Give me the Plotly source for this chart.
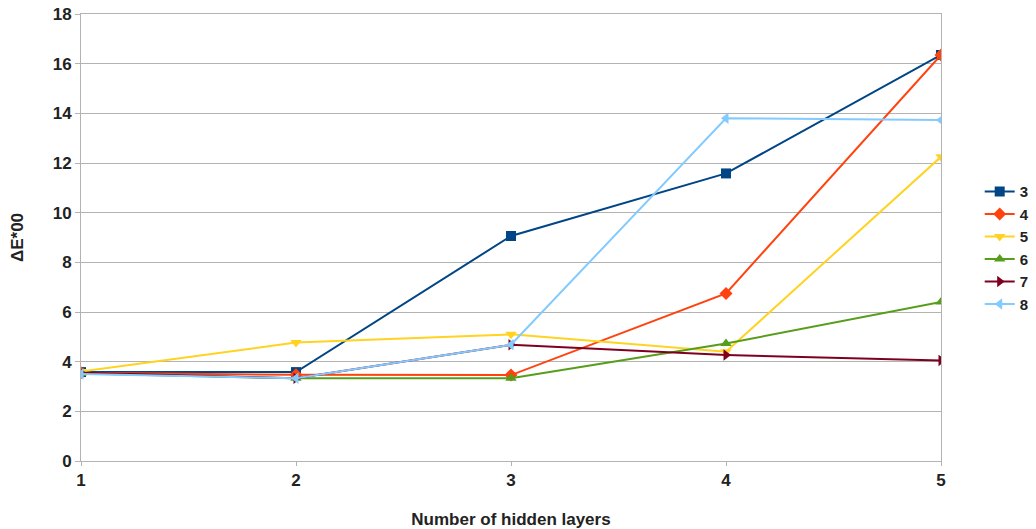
import plotly.graph_objects as go

layers = [1, 2, 3, 4, 5]
series_names = ["3", "4", "5", "6", "7", "8"]
s3 = [3.58, 3.58, 9.06, 11.58, 16.35]
s4 = [3.55, 3.47, 3.46, 6.75, 16.35]
s5 = [3.6, 4.77, 5.1, 4.4, 12.25]
s6 = [3.52, 3.33, 3.33, 4.73, 6.4]
s7 = [3.55, 3.33, 4.68, 4.27, 4.05]
s8 = [3.5, 3.33, 4.68, 13.8, 13.73]
values = [s3, s4, s5, s6, s7, s8]
colors = ["#004586", "#ff420e", "#ffd320", "#579d1c", "#7e0021", "#83caff"]
symbols = ["square", "diamond", "triangle-down", "triangle-up", "triangle-right", "triangle-left"]

font = "Liberation Sans, Arial, sans-serif"
fig = go.Figure()
for name, vals, c, s in zip(series_names, values, colors, symbols):
    fig.add_trace(go.Scatter(x=layers, y=vals, name=name, mode="lines+markers",
                             line=dict(color=c, width=2),
                             marker=dict(symbol=s, size=10, color=c)))

fig.update_layout(
    width=1036, height=529,
    margin=dict(l=81, r=95, t=14, b=68, autoexpand=False),
    plot_bgcolor="white", paper_bgcolor="white",
    font=dict(family=font, size=16, color="#222222"),
    showlegend=True,
    legend=dict(x=1.045, y=0.477, yanchor="middle", xanchor="left",
                font=dict(family=font, size=15, color="#222222", weight="bold"),
                tracegroupgap=0, itemwidth=30),
    xaxis=dict(range=[1, 5], tickvals=layers, ticktext=[str(v) for v in layers],
               automargin=False,
               showgrid=False, showline=True, linecolor="#b3b3b3", mirror=True,
               zeroline=False, ticks="outside", ticklen=4, tickcolor="#b3b3b3",
               tickfont=dict(family=font, size=17, weight="bold", color="#222222"),
               title=dict(text="Number of hidden layers",
                          font=dict(family=font, size=17, weight="bold", color="#222222"),
                          standoff=30)),
    yaxis=dict(range=[0, 18], dtick=2, showgrid=True, gridcolor="#b3b3b3",
               automargin=False, ticklabeloverflow="allow",
               showline=True, linecolor="#b3b3b3", mirror=True, zeroline=False,
               ticks="outside", ticklen=5, tickcolor="#b3b3b3",
               tickfont=dict(family=font, size=17, weight="bold", color="#222222"),
               title=dict(text="ΔE*00",
                          font=dict(family=font, size=17, weight="bold", color="#222222"),
                          standoff=24)),
)
fig.write_html("out.html", config={"displayModeBar": False},
               post_script="document.body.style.margin='0';")
